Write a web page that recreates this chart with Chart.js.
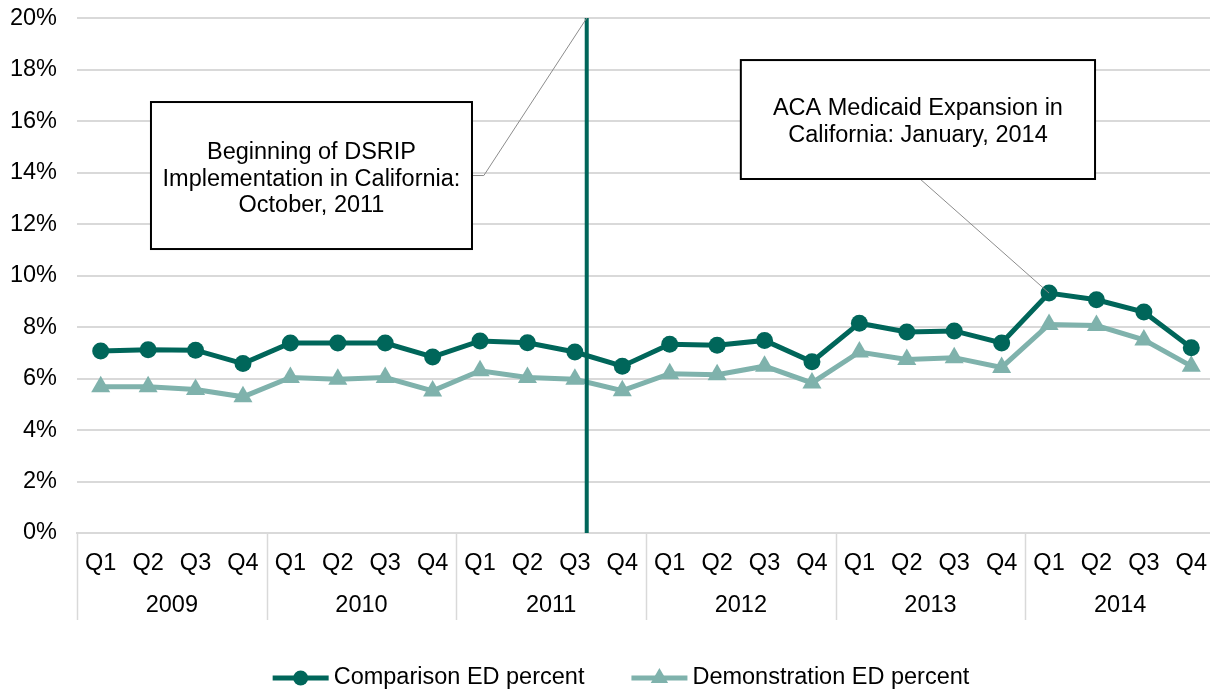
<!DOCTYPE html>
<html><head><meta charset="utf-8">
<script src="https://cdn.jsdelivr.net/npm/chart.js@4.4.1/dist/chart.umd.min.js"></script>
<style>
html,body{margin:0;padding:0;background:#fff;overflow:hidden;}
#c{display:block;}
</style></head><body>
<canvas id="c" width="1226" height="691"></canvas>
<script>
// ---- data ----
const quarters = ['Q1','Q2','Q3','Q4','Q1','Q2','Q3','Q4','Q1','Q2','Q3','Q4','Q1','Q2','Q3','Q4','Q1','Q2','Q3','Q4','Q1','Q2','Q3','Q4'];
const years = ['2009','2010','2011','2012','2013','2014'];
const comparison = [7.07,7.12,7.10,6.58, 7.38,7.38,7.38,6.84, 7.46,7.39,7.03,6.48, 7.33,7.29,7.48,6.65, 8.15,7.81,7.85,7.38, 9.32,9.06,8.58,7.20];
const demonstration = [5.68,5.68,5.57,5.29, 6.04,5.97,6.04,5.52, 6.30,6.04,5.97,5.53, 6.19,6.15,6.48,5.83, 7.03,6.74,6.81,6.43, 8.10,8.06,7.50,6.48];
const yTicks = [0,2,4,6,8,10,12,14,16,18,20];
const seriesNames = ['Comparison ED percent','Demonstration ED percent'];
const dsripText = ['Beginning of DSRIP','Implementation in California:','October, 2011'];
const acaText = ['ACA Medicaid Expansion in','California: January, 2014'];

// ---- styles / annotation placement (in scale units) ----
const DARK = '#00665A', LIGHT = '#7FB2AC', GRID = '#d9d9d9', TXT = '#000';
const FONT = '"Liberation Sans", Arial, sans-serif';
const FS = 23.5;
const dsripX = 10.25;
const dsripBox = {x1:1.06, x2:7.83, yTop:16.74, yBot:11.03, elbowX:8.08};
const acaBox = {x1:13.50, x2:20.97, yTop:18.37, yBot:13.75, anchorX:17.28, target:20};

const annot = {
  id:'annot',
  afterDatasetsDraw(chart){
    const ctx = chart.ctx, xs = chart.scales.x, ys = chart.scales.y;
    const X = v => xs.getPixelForValue(v), Y = v => ys.getPixelForValue(v);
    ctx.save();
    // vertical DSRIP line
    ctx.strokeStyle = DARK; ctx.lineWidth = 4;
    ctx.beginPath(); ctx.moveTo(X(dsripX), Y(20)); ctx.lineTo(X(dsripX), Y(0)); ctx.stroke();
    // connectors
    ctx.strokeStyle = '#8c8c8c'; ctx.lineWidth = 1;
    const dMid = (Y(dsripBox.yTop)+Y(dsripBox.yBot))/2;
    ctx.beginPath(); ctx.moveTo(X(dsripBox.x2), dMid); ctx.lineTo(X(dsripBox.elbowX), dMid); ctx.lineTo(X(dsripX), Y(20)); ctx.stroke();
    ctx.beginPath(); ctx.moveTo(X(acaBox.anchorX), Y(acaBox.yBot)); ctx.lineTo(X(acaBox.target), Y(comparison[acaBox.target])); ctx.stroke();
    // boxes
    const box = (b, lines, offs) => {
      const x1 = X(b.x1), x2 = X(b.x2), y1 = Y(b.yTop), y2 = Y(b.yBot);
      ctx.fillStyle = '#fff'; ctx.fillRect(x1, y1, x2-x1, y2-y1);
      ctx.strokeStyle = '#000'; ctx.lineWidth = 2; ctx.strokeRect(x1, y1, x2-x1, y2-y1);
      ctx.fillStyle = TXT; ctx.font = FS + 'px ' + FONT; ctx.textAlign = 'center'; ctx.textBaseline = 'alphabetic';
      const cx = (x1+x2)/2, cy = (y1+y2)/2;
      lines.forEach((t,i) => ctx.fillText(t, cx, cy + offs[i] + 0.358*FS));
    };
    box(dsripBox, dsripText, [-25, 2, 28.5]);
    box(acaBox, acaText, [-12.8, 13.8]);
    ctx.restore();
  },
  afterDraw(chart){
    const ctx = chart.ctx, xs = chart.scales.x, area = chart.chartArea;
    const n = quarters.length;
    const bnd = k => k === 0 ? area.left : (k === n ? area.right : (xs.getPixelForValue(k-1)+xs.getPixelForValue(k))/2);
    ctx.save();
    ctx.strokeStyle = GRID; ctx.lineWidth = 1.5;
    for (let y = 0; y <= years.length; y++) {
      const bx = Math.round(bnd(y*4)) + 0.5;
      ctx.beginPath(); ctx.moveTo(bx, area.bottom); ctx.lineTo(bx, 620); ctx.stroke();
    }
    ctx.fillStyle = TXT; ctx.font = FS + 'px ' + FONT; ctx.textAlign = 'center'; ctx.textBaseline = 'middle';
    years.forEach((yr, i) => ctx.fillText(yr, (bnd(i*4)+bnd(i*4+4))/2, 606));
    // legend
    const w1 = ctx.measureText(seriesNames[0]).width, w2 = ctx.measureText(seriesNames[1]).width;
    const sw = 56, g = 5, gap = 47;
    const total = sw+g+w1+gap+sw+g+w2;
    let x = 621 - total/2; const ly = 678;
    const sample = (x0, color, style) => {
      ctx.strokeStyle = color; ctx.lineWidth = 5;
      ctx.beginPath(); ctx.moveTo(x0, ly); ctx.lineTo(x0+sw, ly); ctx.stroke();
      ctx.fillStyle = color;
      const cx = x0 + sw/2;
      ctx.beginPath();
      if (style === 'circle') ctx.arc(cx, ly, 7.5, 0, Math.PI*2);
      else { const r = 10; ctx.moveTo(cx, ly - r); ctx.lineTo(cx + r*0.866, ly + r*0.5); ctx.lineTo(cx - r*0.866, ly + r*0.5); ctx.closePath(); }
      ctx.fill();
    };
    ctx.textAlign = 'left';
    sample(x, DARK, 'circle'); x += sw + g;
    ctx.fillStyle = TXT; ctx.fillText(seriesNames[0], x, ly); x += w1 + gap;
    sample(x, LIGHT, 'triangle'); x += sw + g;
    ctx.fillStyle = TXT; ctx.fillText(seriesNames[1], x, ly);
    ctx.restore();
  }
};

new Chart(document.getElementById('c'), {
  type: 'line',
  data: {
    labels: quarters,
    datasets: [
      {label: seriesNames[0], data: comparison, borderColor: DARK, backgroundColor: DARK, borderWidth: 5,
       pointStyle: 'circle', pointRadius: 8.5, pointBorderWidth: 0, pointBackgroundColor: DARK, tension: 0},
      {label: seriesNames[1], data: demonstration, borderColor: LIGHT, backgroundColor: LIGHT, borderWidth: 5,
       pointStyle: 'triangle', pointRadius: 11, pointBorderWidth: 0, pointBackgroundColor: LIGHT, tension: 0}
    ]
  },
  options: {
    responsive: false, devicePixelRatio: 1, animation: false,
    layout: {padding: {top: 0, right: 3, bottom: 0, left: 0}},
    plugins: {legend: {display: false}, tooltip: {enabled: false}},
    scales: {
      x: {
        offset: true,
        grid: {display: false, drawTicks: false},
        border: {display: true, color: GRID, width: 2},
        ticks: {font: {family: FONT, size: FS}, color: TXT, padding: 16, maxRotation: 0, autoSkip: false},
        afterFit(s){ s.height = 158; }
      },
      y: {
        min: 0, max: 20,
        afterBuildTicks(s){ s.ticks = yTicks.map(v => ({value: v})); },
        ticks: {font: {family: FONT, size: FS}, color: TXT, padding: 4, callback: v => v + '%'},
        grid: {color: GRID, lineWidth: 2, drawTicks: true, tickLength: 16, tickColor: 'rgba(0,0,0,0)'},
        border: {display: false},
        afterFit(s){ s.width = 77; }
      }
    }
  },
  plugins: [annot]
});
</script>
</body></html>
